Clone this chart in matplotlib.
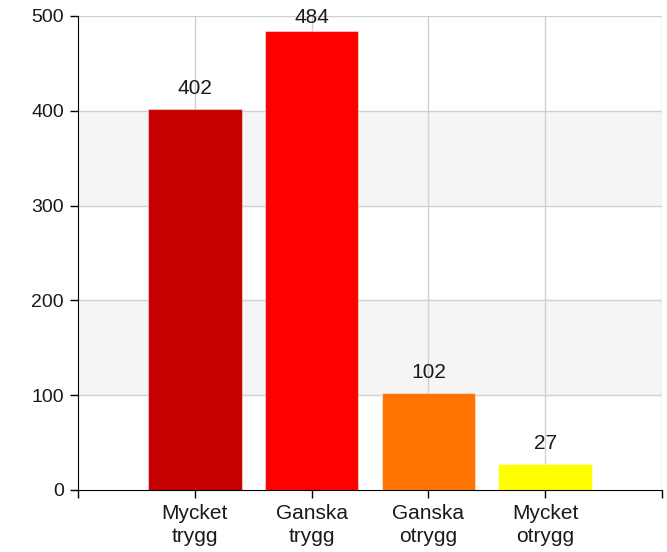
import matplotlib
matplotlib.use("Agg")
import matplotlib.pyplot as plt

categories = ["Mycket\ntrygg", "Ganska\ntrygg", "Ganska\notrygg", "Mycket\notrygg"]
values = [402, 484, 102, 27]
colors = ["#c60000", "#ff0000", "#ff7300", "#ffff00"]
yticks = [0, 100, 200, 300, 400, 500]

plt.rcParams['font.family'] = ['Liberation Sans', 'DejaVu Sans']

W, H = 667, 552
fig = plt.figure(figsize=(W/100, H/100), dpi=100)
ax_top_px, ax_bot_px = 16, 490
ax = fig.add_axes([78/W, 1-ax_bot_px/H, (662-78)/W, (ax_bot_px-ax_top_px)/H])

# alternating bands
for i in range(len(yticks) - 1):
    if i % 2 == 1:
        ax.axhspan(yticks[i], yticks[i+1], color="#f5f5f5", zorder=0, lw=0)

ymax = 500
ax.set_xlim(-1, 4)
ax.set_ylim(0, ymax)
for y in yticks[1:]:
    ax.axhline(y, color="#d0d0d0", lw=1, zorder=1)
for x in range(0, 5):
    ax.axvline(x, color="#d0d0d0", lw=1, zorder=1)

xs = list(range(len(values)))
ax.bar(xs, values, width=0.8, color=colors, edgecolor=(1, 1, 1, 0.45), linewidth=0.8, zorder=2)

px_per_unit = (ax_bot_px - ax_top_px) / ymax
for x, v in zip(xs, values):
    bar_top_px = ax_top_px + (ymax - v) * px_per_unit
    # baseline 15px above bar, but keep the label inside the figure
    gap_px = min(15, bar_top_px - 23)
    ax.annotate(str(v), (x, v), xytext=(0, gap_px * 0.72), textcoords="offset points",
                ha="center", va="baseline", fontsize=15, color="#1a1a1a", zorder=3,
                annotation_clip=False)

ax.set_xticks([-1, 0, 1, 2, 3, 4])
ax.set_xticklabels([""] + categories + [""], fontsize=15, linespacing=1.3, color="#1a1a1a")
ax.set_yticks(yticks)
ax.set_yticklabels([str(v) for v in yticks], fontsize=14, color="#1a1a1a")
ax.tick_params(axis="both", direction="out", length=6, color="black", width=1)
ax.tick_params(axis="x", pad=4)
ax.tick_params(axis="y", pad=4)

for s in ["top", "right"]:
    ax.spines[s].set_visible(False)
ax.spines["left"].set_color("black")
ax.spines["bottom"].set_color("black")

fig.savefig("out.png", dpi=100)
